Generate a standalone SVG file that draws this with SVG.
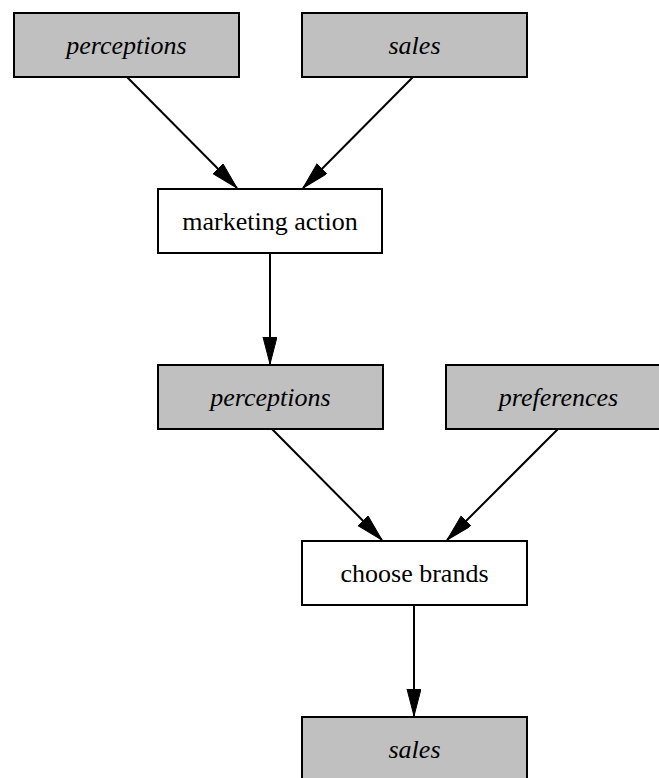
<svg xmlns="http://www.w3.org/2000/svg" width="659" height="778" viewBox="0 0 659 778">
  <style>
    .box { stroke: #000; stroke-width: 2; }
    .data { fill: #c0c0c0; }
    .proc { fill: #ffffff; }
    .lbl { font-family: "Liberation Serif", "Times New Roman", serif; font-size: 26px; text-anchor: middle; fill: #000; }
    .it { font-style: italic; }
    .edge { stroke: #000; stroke-width: 2; fill: none; }
  </style>
  <defs>
    <marker id="arrow" markerUnits="userSpaceOnUse" markerWidth="28" markerHeight="16" refX="27" refY="7" orient="auto">
      <path d="M0,0 L27,7 L0,14 Z" fill="#000" stroke="#000" stroke-width="1"/>
    </marker>
  </defs>

  <g id="edges">
    <line class="edge" x1="127" y1="77" x2="237" y2="188" marker-end="url(#arrow)"/>
    <line class="edge" x1="413" y1="77" x2="303" y2="188" marker-end="url(#arrow)"/>
    <line class="edge" x1="270" y1="253" x2="270" y2="364" marker-end="url(#arrow)"/>
    <line class="edge" x1="272" y1="429" x2="382" y2="540" marker-end="url(#arrow)"/>
    <line class="edge" x1="558" y1="429" x2="447" y2="540" marker-end="url(#arrow)"/>
    <line class="edge" x1="414" y1="605" x2="414" y2="716" marker-end="url(#arrow)"/>
  </g>

  <g id="perceptions_in">
    <rect class="box data" x="14" y="13" width="225" height="64"/>
    <text class="lbl it" x="126.5" y="54">perceptions</text>
  </g>
  <g id="sales_in">
    <rect class="box data" x="302" y="13" width="225" height="64"/>
    <text class="lbl it" x="414.5" y="54">sales</text>
  </g>
  <g id="marketing_action">
    <rect class="box proc" x="158" y="189" width="224" height="64"/>
    <text class="lbl" x="270" y="230">marketing action</text>
  </g>
  <g id="perceptions_mid">
    <rect class="box data" x="158" y="365" width="225" height="64"/>
    <text class="lbl it" x="270.5" y="406">perceptions</text>
  </g>
  <g id="preferences">
    <rect class="box data" x="446" y="365" width="225" height="64"/>
    <text class="lbl it" x="558.5" y="406">preferences</text>
  </g>
  <g id="choose_brands">
    <rect class="box proc" x="302" y="541" width="225" height="64"/>
    <text class="lbl" x="414.5" y="582">choose brands</text>
  </g>
  <g id="sales_out">
    <rect class="box data" x="302" y="717" width="225" height="64"/>
    <text class="lbl it" x="414.5" y="758">sales</text>
  </g>
</svg>
